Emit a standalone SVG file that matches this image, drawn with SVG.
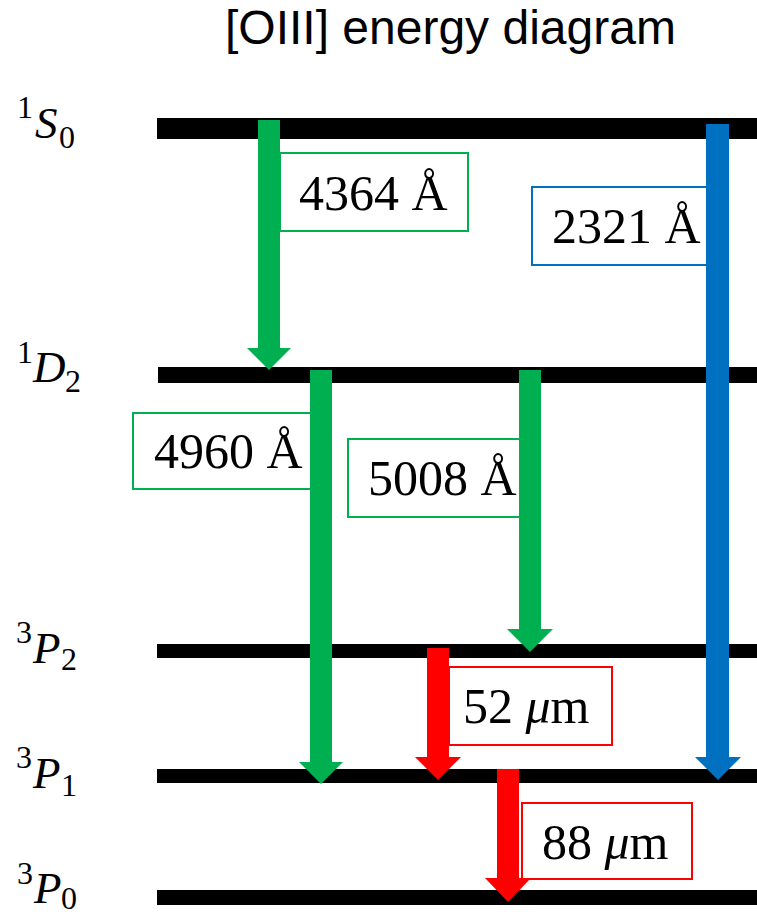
<svg xmlns="http://www.w3.org/2000/svg" width="757" height="917" viewBox="0 0 757 917">
<style>
.bar{fill:#000}
.lvl{font-family:"Liberation Serif",serif;font-size:45px;font-style:italic;fill:#000}
.sup{font-family:"Liberation Serif",serif;font-size:32px;font-style:normal;fill:#000}
.lbl{font-family:"Liberation Serif",serif;font-size:50px;fill:#000}
.it{font-style:italic}
.bg{fill:#fff;stroke:#00B050;stroke-width:2}
.bb{fill:#fff;stroke:#0070C0;stroke-width:2}
.br{fill:#fff;stroke:#FF0000;stroke-width:2}
.title{font-family:"Liberation Sans",Arial,sans-serif;font-size:48px;fill:#000}
</style>
<rect width="757" height="917" fill="#fff"/>
<text class="title" x="225" y="44">[OIII] energy diagram</text>

<g id="level-1S0">
<rect class="bar" x="157" y="118" width="600" height="21"/>
<text class="sup" x="17" y="118">1</text>
<text class="lvl" x="35" y="138">S</text>
<text class="sup" x="59" y="148">0</text>
</g>
<g id="level-1D2">
<rect class="bar" x="158" y="367" width="599" height="16"/>
<text class="sup" x="17" y="363">1</text>
<text class="lvl" x="33" y="382">D</text>
<text class="sup" x="65" y="392">2</text>
</g>
<g id="level-3P2">
<rect class="bar" x="157" y="644" width="600" height="14"/>
<text class="sup" x="16" y="643">3</text>
<text class="lvl" x="33" y="663">P</text>
<text class="sup" x="61" y="670">2</text>
</g>
<g id="level-3P1">
<rect class="bar" x="157" y="769" width="600" height="14"/>
<text class="sup" x="16" y="768">3</text>
<text class="lvl" x="33" y="788">P</text>
<text class="sup" x="61" y="796">1</text>
</g>
<g id="level-3P0">
<rect class="bar" x="157" y="890" width="600" height="15"/>
<text class="sup" x="17" y="884">3</text>
<text class="lvl" x="34" y="903">P</text>
<text class="sup" x="61" y="909">0</text>
</g>

<g id="label-4364">
<rect class="bg" x="280" y="153" width="188" height="78"/>
<text class="lbl" x="299" y="210">4364 Å</text>
</g>
<g id="label-2321">
<rect class="bb" x="532" y="187" width="176" height="78"/>
<text class="lbl" x="552" y="243">2321 Å</text>
</g>
<g id="label-4960">
<rect class="bg" x="133" y="413" width="178" height="76"/>
<text class="lbl" x="154" y="468">4960 Å</text>
</g>
<g id="label-5008">
<rect class="bg" x="348" y="439" width="172" height="78"/>
<text class="lbl" x="368" y="495">5008 Å</text>
</g>
<g id="label-52um">
<rect class="br" x="449" y="667" width="163" height="78"/>
<text class="lbl" x="463" y="723">52 <tspan class="it">μ</tspan>m</text>
</g>
<g id="label-88um">
<rect class="br" x="522" y="803" width="170" height="76"/>
<text class="lbl" x="542" y="859">88 <tspan class="it">μ</tspan>m</text>
</g>

<g id="connectors">
<path d="M258 120H280V348H291L269 370L247 348H258Z" fill="#00B050"/>
<path d="M706 124H729V757H741L718 780L695 757H706Z" fill="#0070C0"/>
<path d="M310 370H332V762H343L321 784L299 762H310Z" fill="#00B050"/>
<path d="M519 370H541V629H553L530 652L507 629H519Z" fill="#00B050"/>
<path d="M427 648H449V757H461L438 780L415 757H427Z" fill="#FF0000"/>
<path d="M497 769H519V878H531L508 902L485 878H497Z" fill="#FF0000"/>
</g>
</svg>
